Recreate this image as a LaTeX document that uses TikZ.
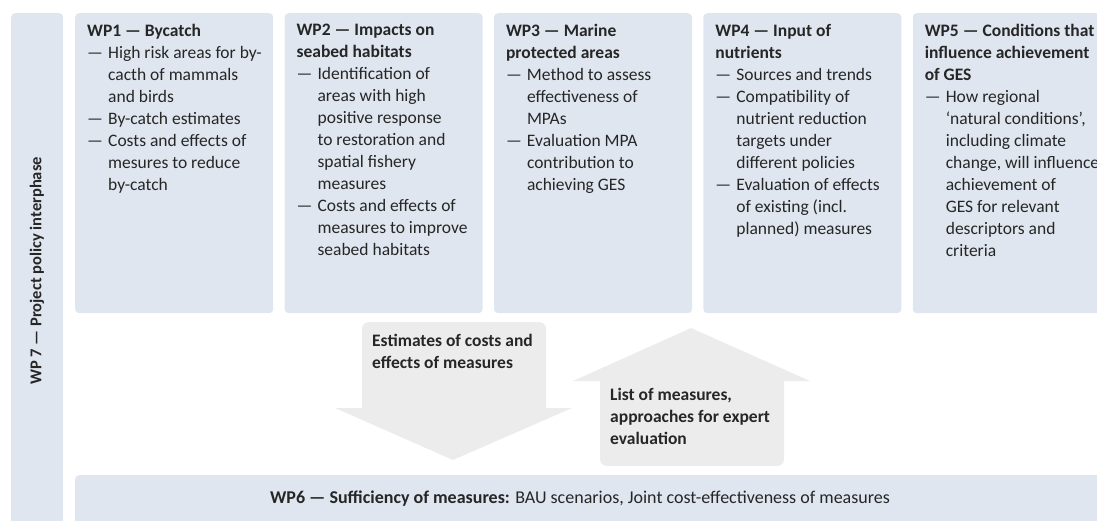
\documentclass[tikz,border=0pt]{standalone}
\usepackage{fontspec}
\setmainfont{Carlito}
\usetikzlibrary{positioning}
\definecolor{wpblue}{RGB}{223,230,239}
\definecolor{arrowgray}{RGB}{236,236,236}
\definecolor{textgray}{RGB}{38,38,38}
\newcommand{\wpdash}{\makebox[21pt][l]{—}}
\newcommand{\wpcont}{\hspace*{21pt}}

\begin{document}
\begin{tikzpicture}[x=1pt, y=-1pt,
node distance=11pt,
wpbox/.style={fill=wpblue, rounded corners=4pt, minimum width=198pt, minimum height=300pt, inner sep=0pt, anchor=north west},
wptext/.style={anchor=north west, align=left, inner sep=0pt, text=textgray, font=\fontsize{17.5}{22}\selectfont},
flowtext/.style={wptext, font=\fontsize{17.5}{22}\selectfont\bfseries},
flowarrow/.style={fill=arrowgray} ]

\useasboundingbox (0,0) rectangle (1097,521);
\clip (0,0) rectangle (1097,521);

% side and bottom bars
\node[wpbox, minimum width=52pt, minimum height=560pt] (wp7) at (11,13) {};
\node[wpbox, minimum width=1060pt, minimum height=80pt] (wp6) at (75,475) {};

% work package boxes
\node[wpbox] (wp1) at (75,13) {};
\node[wpbox, right=of wp1] (wp2) {};
\node[wpbox, right=of wp2] (wp3) {};
\node[wpbox, right=of wp3] (wp4) {};
\node[wpbox, right=of wp4] (wp5) {};

\node[wptext] (wp1text) at ([shift={(12,11)}]wp1.north west) {\textbf{WP1 — Bycatch}\\
\wpdash High risk areas for by-\\
\wpcont cacth of mammals\\
\wpcont and birds\\
\wpdash By-catch estimates\\
\wpdash Costs and effects of\\
\wpcont mesures to reduce\\
\wpcont by-catch};

\node[wptext] (wp2text) at ([shift={(12,11)}]wp2.north west) {\textbf{WP2 — Impacts on}\\
\textbf{seabed habitats}\\
\wpdash Identification of\\
\wpcont areas with high\\
\wpcont positive response\\
\wpcont to restoration and\\
\wpcont spatial fishery\\
\wpcont measures\\
\wpdash Costs and effects of\\
\wpcont measures to improve\\
\wpcont seabed habitats};

\node[wptext] (wp3text) at ([shift={(12,11)}]wp3.north west) {\textbf{WP3 — Marine}\\
\textbf{protected areas}\\
\wpdash Method to assess\\
\wpcont effectiveness of\\
\wpcont MPAs\\
\wpdash Evaluation MPA\\
\wpcont contribution to\\
\wpcont achieving GES};

\node[wptext] (wp4text) at ([shift={(12,11)}]wp4.north west) {\textbf{WP4 — Input of}\\
\textbf{nutrients}\\
\wpdash Sources and trends\\
\wpdash Compatibility of\\
\wpcont nutrient reduction\\
\wpcont targets under\\
\wpcont different policies\\
\wpdash Evaluation of effects\\
\wpcont of existing (incl.\\
\wpcont planned) measures};

\node[wptext] (wp5text) at ([shift={(12,11)}]wp5.north west) {\textbf{WP5 — Conditions that}\\
\textbf{influence achievement}\\
\textbf{of GES}\\
\wpdash How regional\\
\wpcont ‘natural conditions’,\\
\wpcont including climate\\
\wpcont change, will influence\\
\wpcont achievement of\\
\wpcont GES for relevant\\
\wpcont descriptors and\\
\wpcont criteria};

\node[flowtext, anchor=center, rotate=90, font=\fontsize{16.5}{20}\selectfont\bfseries] (wp7text) at (37,271) {WP 7 — Project policy interphase};

\node[wptext, anchor=center, font=\fontsize{18}{22}\selectfont] (wp6text) at (580,499) {\textbf{WP6 — Sufficiency of measures:} BAU scenarios, Joint cost-effectiveness of measures};

% block arrows between the packages and WP6
\fill[flowarrow] (362,380) [rounded corners=7pt] -- (362,322) -- (546,322) -- (546,380) [sharp corners] -- (546,408) -- (572,408) -- (453,460) -- (335,408) -- (362,408) -- cycle;
\fill[flowarrow] (784,420) [rounded corners=7pt] -- (784,466) -- (600,466) -- (600,420) [sharp corners] -- (600,381) -- (573,381) -- (691,328) -- (810,381) -- (784,381) -- cycle;

\node[flowtext] (downtext) at (372,334) {Estimates of costs and\\effects of measures};
\node[flowtext] (uptext) at (610,388) {List of measures,\\approaches for expert\\evaluation};

\end{tikzpicture}
\end{document}
